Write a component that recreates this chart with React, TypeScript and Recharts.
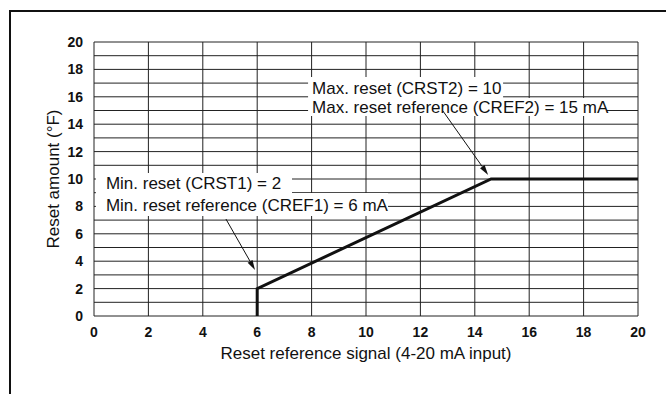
import { LineChart, Line, XAxis, YAxis, CartesianGrid, ReferenceArea, ReferenceLine, Label } from 'recharts';

// Reset schedule: signal (mA) vs reset amount (°F)
const SIGNAL_MA = [6, 6, 14.6, 20];
const RESET_F = [0, 2, 10, 10];

const X_TICKS = [0, 2, 4, 6, 8, 10, 12, 14, 16, 18, 20];
const Y_TICKS = [0, 2, 4, 6, 8, 10, 12, 14, 16, 18, 20];
const H_GRID = [0, 1, 2, 3, 4, 5, 6, 7, 8, 9, 10, 11, 12, 13, 14, 15, 16, 17, 18, 19, 20];

const NOTE_MAX_1 = 'Max. reset (CRST2) = 10';
const NOTE_MAX_2 = 'Max. reset reference (CREF2) = 15 mA';
const NOTE_MIN_1 = 'Min. reset (CRST1) = 2';
const NOTE_MIN_2 = 'Min. reset reference (CREF1) = 6 mA';

const data = SIGNAL_MA.map((x, i) => ({ x, y: RESET_F[i] }));

const FONT = '"Liberation Sans", Arial, Helvetica, sans-serif';
const INK = '#111';

function Arrow(props: any) {
  const { x1, y1, x2, y2 } = props;
  const a = Math.atan2(y2 - y1, x2 - x1);
  const len = 10;
  const hw = 2.8;
  const bx = x2 - len * Math.cos(a);
  const by = y2 - len * Math.sin(a);
  const px = -Math.sin(a) * hw;
  const py = Math.cos(a) * hw;
  return (
    <g>
      <line x1={x1} y1={y1} x2={bx} y2={by} stroke={INK} strokeWidth={1} />
      <polygon points={`${x2},${y2} ${bx + px},${by + py} ${bx - px},${by - py}`} fill={INK} />
    </g>
  );
}

const noteLabel = (value: string, offset: number) => (
  <Label value={value} position="insideLeft" offset={offset} fill={INK} fontSize={17} fontFamily={FONT} />
);

// fine horizontal grid (every 1 °F), placed through the y scale
const hGrid = ({ yAxis, offset }: any) =>
  H_GRID.map((v) =>
    yAxis && typeof yAxis.scale === 'function' ? yAxis.scale(v) : offset.top + offset.height * (1 - v / 20),
  );

export default function App() {
  return (
    <div style={{ position: 'absolute', left: 0, top: 0, width: 666, height: 394, overflow: 'hidden', background: '#fff' }}>
      <div style={{ position: 'absolute', left: 9, top: 10, width: 700, height: 400, borderLeft: `2px solid ${INK}`, borderTop: `2px solid ${INK}` }} />
      <div style={{ position: 'absolute', left: 0, top: 0 }}>
        <LineChart width={666} height={394} data={data} margin={{ top: 42, right: 28, bottom: 0, left: 0 }}>
          <CartesianGrid stroke="#222" strokeWidth={1} horizontalCoordinatesGenerator={hGrid} verticalValues={X_TICKS} />
          <XAxis
            dataKey="x"
            type="number"
            domain={[0, 20]}
            ticks={X_TICKS}
            interval={0}
            axisLine={false}
            tickLine={false}
            tickSize={6}
            tickMargin={5}
            height={78}
            tick={{ fill: INK, fontSize: 14, fontWeight: 700, fontFamily: FONT }}
          >
            <Label value="Reset reference signal (4-20 mA input)" position="center" dy={-2} fill={INK} fontSize={17} fontFamily={FONT} />
          </XAxis>
          <YAxis
            type="number"
            domain={[0, 20]}
            ticks={Y_TICKS}
            interval={0}
            axisLine={false}
            tickLine={false}
            tickSize={6}
            tickMargin={5}
            width={94}
            tick={{ fill: INK, fontSize: 14, fontWeight: 700, fontFamily: FONT }}
          >
            <Label value="Reset amount (°F)" position="center" angle={-90} dx={6} fill={INK} fontSize={17} fontFamily={FONT} />
          </YAxis>

          <ReferenceArea x1={7.87} x2={15.04} y1={15.91} y2={17.45} fill="#fff" fillOpacity={1} stroke="none">
            {noteLabel(NOTE_MAX_1, 4)}
          </ReferenceArea>
          <ReferenceArea x1={7.87} x2={18.86} y1={14.6} y2={15.91} fill="#fff" fillOpacity={1} stroke="none">
            {noteLabel(NOTE_MAX_2, 4)}
          </ReferenceArea>
          <ReferenceArea x1={0.07} x2={7.28} y1={8.98} y2={10.44} fill="#fff" fillOpacity={1} stroke="none">
            {noteLabel(NOTE_MIN_1, 10)}
          </ReferenceArea>
          <ReferenceArea x1={0.07} x2={10.81} y1={7.3} y2={8.98} fill="#fff" fillOpacity={1} stroke="none">
            {noteLabel(NOTE_MIN_2, 10)}
          </ReferenceArea>

          <ReferenceLine segment={[{ x: 12.83, y: 14.96 }, { x: 14.49, y: 10.3 }]} shape={Arrow} />
          <ReferenceLine segment={[{ x: 4.85, y: 7.08 }, { x: 5.92, y: 3.36 }]} shape={Arrow} />

          <Line
            dataKey="y"
            type="linear"
            stroke={INK}
            strokeWidth={3}
            dot={false}
            isAnimationActive={false}
          />
        </LineChart>
      </div>
    </div>
  );
}
